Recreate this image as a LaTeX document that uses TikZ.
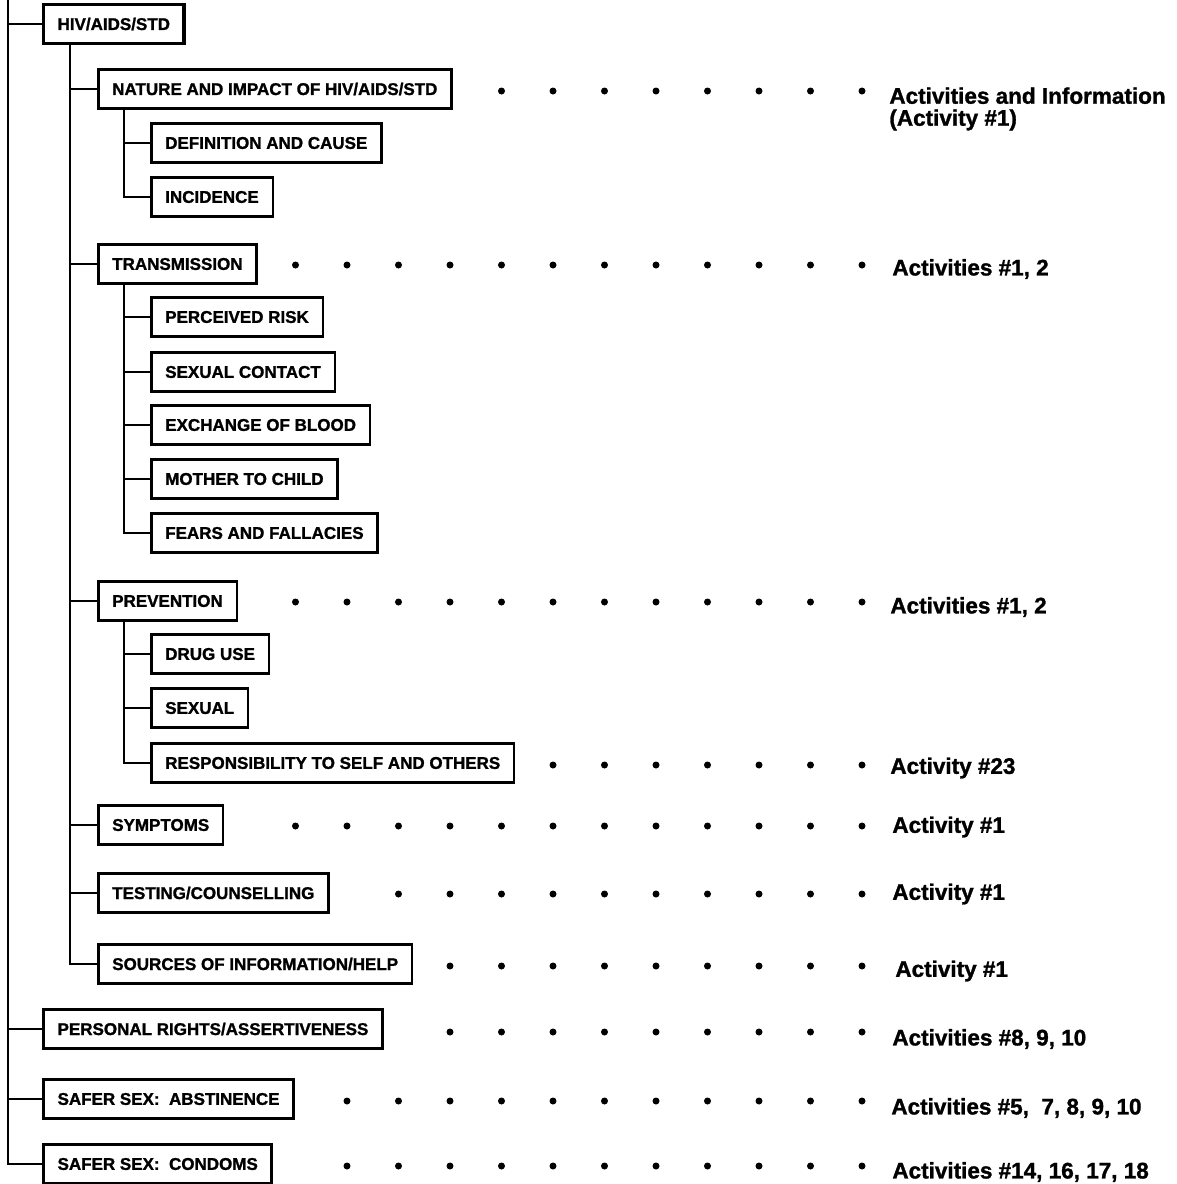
\documentclass[tikz,border=0pt]{standalone}
\usepackage{fontspec}
\setmainfont[BoldFeatures={FakeBold=1.3}]{Liberation Sans}

\begin{document}
\begin{tikzpicture}[x=0.5pt, y=-0.5pt,
	topic/.style={draw, line width=1.25pt, anchor=west, inner xsep=7pt, inner ysep=0pt,
		minimum height=19.5pt, font=\fontsize{8.5}{10}\selectfont\bfseries},
	maintopic/.style={topic, line width=1.6pt},
	act/.style={anchor=west, inner sep=0pt, align=left, font=\fontsize{11.25}{11}\selectfont\bfseries},
	link/.style={line width=1pt}]
	\useasboundingbox (0,0) rectangle (1177,1184);
	% top level
	\node[maintopic] (hiv) at (42,24) {HIV/AIDS/STD};
	\node[maintopic] (prs) at (42,1029) {PERSONAL RIGHTS/ASSERTIVENESS};
	\node[maintopic] (abs) at (42,1099) {SAFER SEX:\ \ ABSTINENCE};
	\node[maintopic] (con) at (42,1164) {SAFER SEX:\ \ CONDOMS};
	% second level
	\node[topic] (nat) at (97,89) {NATURE AND IMPACT OF HIV/AIDS/STD};
	\node[topic] (tra) at (97,264) {TRANSMISSION};
	\node[topic] (pre) at (97,601) {PREVENTION};
	\node[topic] (sym) at (97,825) {SYMPTOMS};
	\node[topic] (tes) at (97,893) {TESTING/COUNSELLING};
	\node[topic] (src) at (97,964) {SOURCES OF INFORMATION/HELP};
	% third level
	\node[topic] (def) at (150,143) {DEFINITION AND CAUSE};
	\node[topic] (inc) at (150,197) {INCIDENCE};
	\node[topic] (per) at (150,317) {PERCEIVED RISK};
	\node[topic] (sxc) at (150,372) {SEXUAL CONTACT};
	\node[topic] (exb) at (150,425) {EXCHANGE OF BLOOD};
	\node[topic] (mot) at (150,479) {MOTHER TO CHILD};
	\node[topic] (fea) at (150,533) {FEARS AND FALLACIES};
	\node[topic] (dru) at (150,654) {DRUG USE};
	\node[topic] (sxl) at (150,708) {SEXUAL};
	\node[topic] (res) at (150,763) {RESPONSIBILITY TO SELF AND OTHERS};
	% tree lines
	\coordinate (trunk) at (8,0);
	\foreach \t in {hiv, prs, abs, con}
		\draw[link] (trunk) |- (\t.west);
	\foreach \t in {nat, tra, pre, sym, tes, src}
		\draw[link] (hiv.south west) ++(28,0) |- (\t.west);
	\foreach \t in {def, inc}
		\draw[link] (nat.south west) ++(27,0) |- (\t.west);
	\foreach \t in {per, sxc, exb, mot, fea}
		\draw[link] (tra.south west) ++(27,0) |- (\t.west);
	\foreach \t in {dru, sxl, res}
		\draw[link] (pre.south west) ++(27,0) |- (\t.west);
	% dotted leaders
	\foreach \y/\n in {91/7, 265/11, 602/11, 765/6, 826/11, 894/9, 966/8, 1032/8, 1101/10, 1166/10}
		\foreach \k in {0,...,\n}
			\fill (862-51.5*\k, \y) circle (1.75pt);
	% activities
	\node[act, anchor=north west] (a-nat) at (889,87) {Activities and Information\\(Activity \#1)};
	\node[act] (a-tra) at (892,269) {Activities \#1, 2};
	\node[act] (a-pre) at (890,607) {Activities \#1, 2};
	\node[act] (a-res) at (890,768) {Activity \#23};
	\node[act] (a-sym) at (892,827) {Activity \#1};
	\node[act] (a-tes) at (892,894) {Activity \#1};
	\node[act] (a-src) at (895,971) {Activity \#1};
	\node[act] (a-prs) at (892,1039) {Activities \#8, 9, 10};
	\node[act] (a-abs) at (891,1108) {Activities \#5,\ \ 7, 8, 9, 10};
	\node[act] (a-con) at (892,1172) {Activities \#14, 16, 17, 18};
\end{tikzpicture}
\end{document}
